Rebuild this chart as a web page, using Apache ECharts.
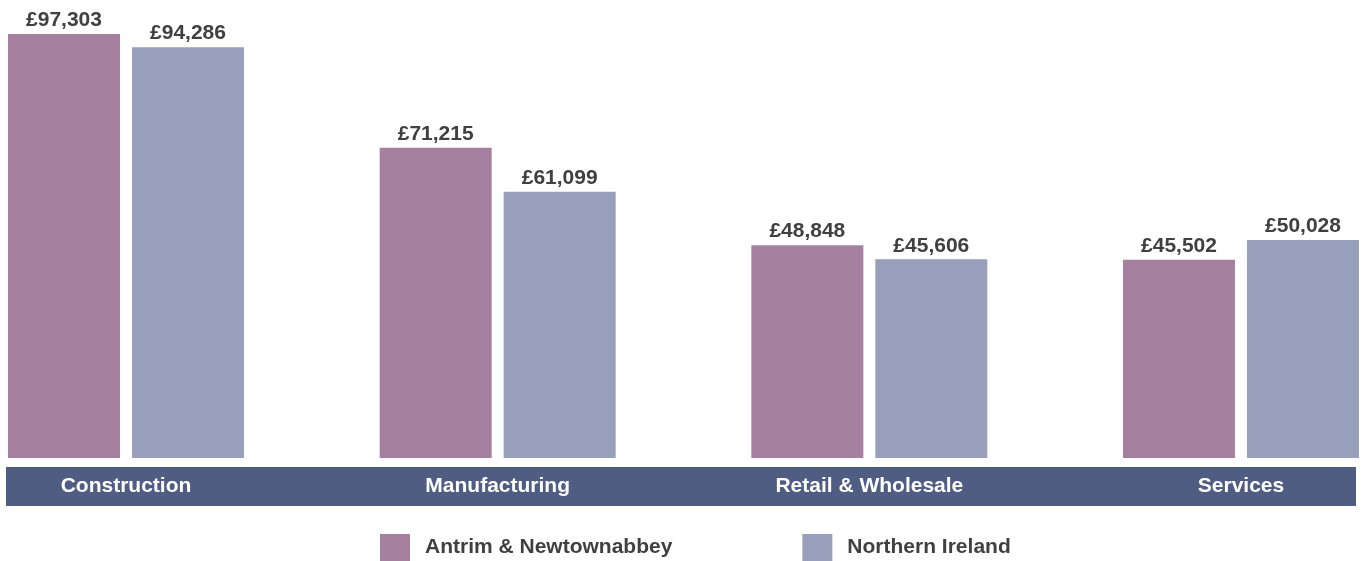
<!DOCTYPE html>
<html>
<head>
    <meta charset="utf-8">
    <title>Average salary by sector</title>
    <script src="https://cdn.jsdelivr.net/npm/echarts@6/dist/echarts.min.js"></script>
    <style>
        body { margin: 0; background: #fff; }
        #chart { width: 1362px; height: 561px; }
    </style>
</head>
<body>
    <div id="chart"></div>
    <script type="text/javascript">
        var categories = ['Construction', 'Manufacturing', 'Retail & Wholesale', 'Services'];
        var antrimValues = [97303, 71215, 48848, 45502];
        var niValues = [94286, 61099, 45606, 50028];
        var seriesNames = ['Antrim & Newtownabbey', 'Northern Ireland'];

        var textColor = '#404040';
        var fontFamily = 'Liberation Sans, Arial, sans-serif';

        function pounds(p) {
            return '£' + p.value.toLocaleString('en-GB');
        }

        var myChart = echarts.init(document.getElementById('chart'), null, { renderer: 'canvas' });

        var valueLabel = {
            show: true,
            position: 'top',
            distance: 3,
            formatter: pounds,
            color: textColor,
            fontFamily: fontFamily,
            fontWeight: 'bold',
            fontSize: 21
        };

        myChart.setOption({
            animation: false,
            textStyle: { fontFamily: fontFamily },
            // categories sit on the ticks, so the grid spans first to last centre
            grid: { left: 126, right: 121, top: 22.3, bottom: 103 },
            graphic: [{
                type: 'rect',
                z: 0,
                shape: { x: 6, y: 467, width: 1350, height: 39 },
                style: { fill: '#4f5d83' }
            }],
            legend: {
                left: 380,
                top: 534,
                padding: 0,
                itemWidth: 30,
                itemHeight: 27,
                itemGap: 130,
                icon: 'rect',
                textStyle: { color: textColor, fontWeight: 'bold', fontSize: 21, fontFamily: fontFamily, padding: [0, 0, 0, 10] },
                data: seriesNames
            },
            xAxis: {
                type: 'category',
                data: categories,
                boundaryGap: false,
                axisLine: { show: false },
                axisTick: { show: false },
                z: 10,
                axisLabel: {
                    margin: 18,
                    color: '#ffffff',
                    fontWeight: 'bold',
                    fontSize: 21,
                    fontFamily: fontFamily
                }
            },
            yAxis: {
                type: 'value',
                min: 0,
                max: 100000,
                show: false,
                splitLine: { show: false }
            },
            series: [{
                name: seriesNames[0],
                type: 'bar',
                data: antrimValues,
                barWidth: 112,
                barGap: '10.7%',
                itemStyle: { color: '#a5809f' },
                label: valueLabel
            }, {
                name: seriesNames[1],
                type: 'bar',
                data: niValues,
                barWidth: 112,
                itemStyle: { color: '#979fbb' },
                label: valueLabel
            }]
        });
    </script>
</body>
</html>
